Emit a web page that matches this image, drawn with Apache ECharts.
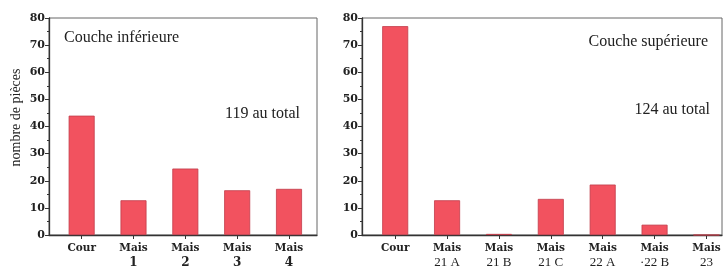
<!DOCTYPE html>
<html>
<head>
<meta charset="utf-8">
<script src="https://cdn.jsdelivr.net/npm/echarts@6/dist/echarts.min.js"></script>
<style>
  html, body { margin: 0; padding: 0; background: #fff; }
  #chart { width: 723px; height: 267px; }
</style>
</head>
<body>
<div id="chart"></div>
<script>
// categories ("Mais\nnuméro")
const catLeft = ["Cour", "Mais\n1", "Mais\n2", "Mais\n3", "Mais\n4"];
const catRight = ["Cour", "Mais\n21 A", "Mais\n21 B", "Mais\n21 C", "Mais\n22 A", "Mais\n·22 B", "Mais\n23"];
// nombre de pièces
const valLeft = [44, 12.8, 24.5, 16.5, 17];
const valRight = [77, 12.8, 0.4, 13.3, 18.6, 3.8, 0];
const yTicks = [0, 10, 20, 30, 40, 50, 60, 70, 80];

const serif = "Liberation Serif";
const slab = "DejaVu Serif";
const barColor = "#f2525f";

const myChart = echarts.init(document.getElementById("chart"));

function xAx(grid, names, min, max, boldNum) {
  return {
    type: "value",
    gridIndex: grid,
    min: min,
    max: max,
    splitLine: { show: false },
    axisLine: { lineStyle: { color: "#333", width: 1.3 } },
    axisTick: {
      customValues: names.map((n, i) => i),
      length: 4,
      lineStyle: { color: "#333" },
    },
    axisLabel: {
      customValues: names.map((n, i) => i),
      margin: 7,
      formatter: (v) => {
        const parts = names[v].split("\n");
        if (parts.length === 1) return "{a|" + parts[0] + "}";
        return "{a|" + parts[0] + "}\n{b|" + parts[1] + "}";
      },
      rich: {
        a: { fontFamily: slab, fontWeight: "bold", fontSize: 10.5, color: "#222", lineHeight: 13 },
        b: {
          fontFamily: boldNum ? slab : serif,
          fontWeight: boldNum ? "bold" : "normal",
          fontSize: boldNum ? 12 : 13,
          color: "#222",
          lineHeight: 15,
        },
      },
    },
  };
}

function yAx(grid, withName) {
  return {
    type: "value",
    gridIndex: grid,
    min: 0,
    max: 80,
    interval: 10,
    name: withName ? "nombre de pièces" : "",
    nameLocation: "middle",
    nameGap: 26,
    nameTextStyle: { fontFamily: serif, fontSize: 14, color: "#222", padding: [0, 0, 0, 18] },
    splitLine: { show: false },
    axisLine: { show: true, onZero: false, lineStyle: { color: "#333", width: 1.3 } },
    axisTick: { length: 4, lineStyle: { color: "#333" } },
    minorTick: { show: true, splitNumber: 2, length: 2, lineStyle: { color: "#333" } },
    axisLabel: {
      margin: 4,
      fontFamily: slab,
      fontWeight: "bold",
      fontSize: 11,
      color: "#222",
      formatter: (v) => (yTicks.includes(v) ? String(v) : ""),
    },
  };
}

function barSeries(idx, vals) {
  return {
    type: "bar",
    xAxisIndex: idx,
    yAxisIndex: idx,
    barWidth: 26,
    data: vals.map((v, i) => [i, v]),
    itemStyle: { color: barColor, borderColor: "#c23c4a", borderWidth: 0.8 },
    silent: true,
  };
}

const option = {
  animation: false,
  backgroundColor: "#fff",
  title: [
    { text: "Couche inférieure", left: 59, top: 25, textStyle: { fontFamily: serif, fontWeight: "normal", fontSize: 16, color: "#222" } },
    { text: "119 au total", right: 418, top: 101, textStyle: { fontFamily: serif, fontWeight: "normal", fontSize: 16, color: "#222" } },
    { text: "Couche supérieure", right: 10, top: 29, textStyle: { fontFamily: serif, fontWeight: "normal", fontSize: 16, color: "#222" } },
    { text: "124 au total", right: 8, top: 97, textStyle: { fontFamily: serif, fontWeight: "normal", fontSize: 16, color: "#222" } },
  ],
  grid: [
    { left: 49, top: 18, width: 268, height: 217, show: true, borderColor: "#666", borderWidth: 1, outerBoundsMode: "none" },
    { left: 362, top: 18, width: 360, height: 217, show: true, borderColor: "#666", borderWidth: 1, outerBoundsMode: "none" },
  ],
  xAxis: [
    xAx(0, catLeft, -0.63, 4.54, true),
    xAx(1, catRight, -0.64, 6.3, false),
  ],
  yAxis: [yAx(0, true), yAx(1, false)],
  series: [barSeries(0, valLeft), barSeries(1, valRight)],
};

myChart.setOption(option);
</script>
</body>
</html>
